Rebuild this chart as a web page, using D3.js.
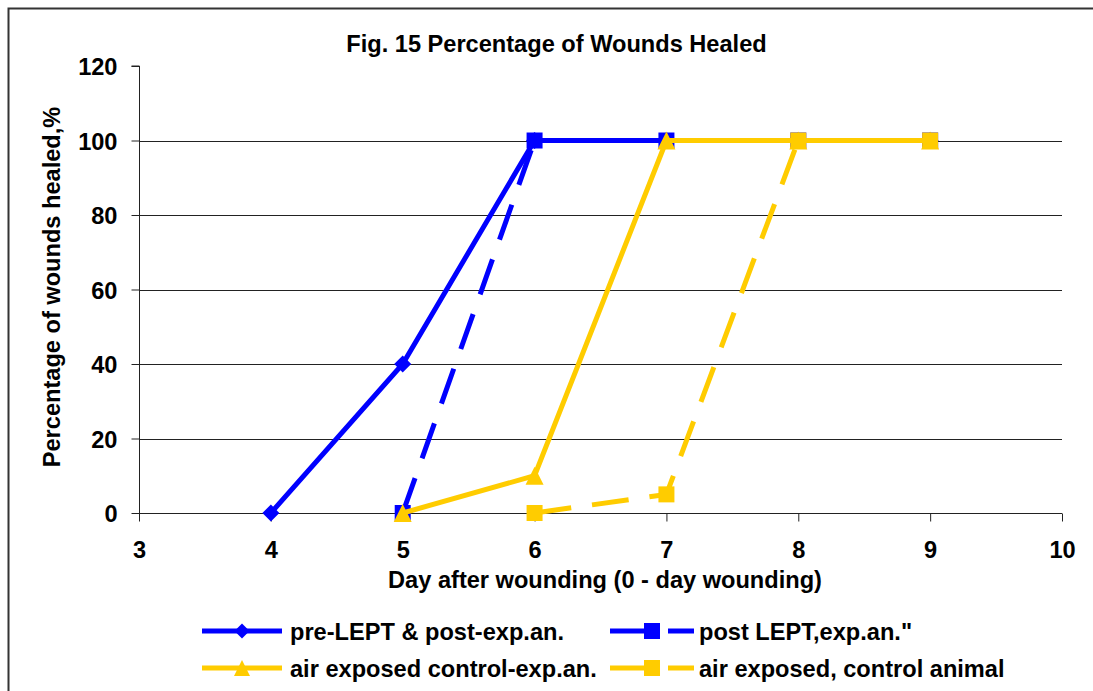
<!DOCTYPE html>
<html>
<head>
<meta charset="utf-8">
<script src="https://cdn.jsdelivr.net/npm/d3@7"></script>
<style>
  html, body { margin: 0; padding: 0; background: #fff; }
  svg { display: block; }
  text { font-family: "Liberation Sans", Arial, sans-serif; font-weight: bold; fill: #000; }
</style>
</head>
<body>
<svg id="chart" width="1093" height="691"></svg>
<script>
// ---- Data ----
const title = "Fig. 15 Percentage of Wounds Healed";
const xLabel = "Day after wounding (0 - day wounding)";
const yLabel = "Percentage of wounds healed,%";
const xTicks = [3, 4, 5, 6, 7, 8, 9, 10];
const yTicks = [0, 20, 40, 60, 80, 100, 120];

const preLeptDays = [4, 5, 6, 7, 8, 9];
const preLeptValues = [0, 40, 100, 100, 100, 100];

const postLeptDays = [5, 6, 7, 8, 9];
const postLeptValues = [0, 100, 100, 100, 100];

const airExpDays = [5, 6, 7, 8, 9];
const airExpValues = [0, 10, 100, 100, 100];

const airCtrlDays = [6, 7, 8, 9];
const airCtrlValues = [0, 5, 100, 100];

const seriesNames = [
  "pre-LEPT & post-exp.an.",
  "post LEPT,exp.an.\"",
  "air exposed control-exp.an.",
  "air exposed, control animal"
];

// ---- Styles ----
const BLUE = "#0000FF", YELLOW = "#FFCC00";
const series = [
  { name: seriesNames[0], days: preLeptDays, values: preLeptValues, color: BLUE, dash: null, marker: "diamond" },
  { name: seriesNames[1], days: postLeptDays, values: postLeptValues, color: BLUE, dash: "37,21", marker: "square" },
  { name: seriesNames[2], days: airExpDays, values: airExpValues, color: YELLOW, dash: null, marker: "triangle" },
  { name: seriesNames[3], days: airCtrlDays, values: airCtrlValues, color: YELLOW, dash: "37,21", marker: "square" }
];

const svg = d3.select("#chart");
const x = d3.scaleLinear().domain([3, 10]).range([139, 1062]);
const y = d3.scaleLinear().domain([0, 120]).range([513, 66]);

// Figure border
svg.append("rect").attr("x", 8.5).attr("y", 8.5).attr("width", 1200).attr("height", 800)
  .attr("fill", "none").attr("stroke", "#333").attr("stroke-width", 2);

// Title
svg.append("text").attr("x", 556.5).attr("y", 52).attr("text-anchor", "middle")
  .style("font-size", "23.6px").text(title);

// Gridlines
svg.append("g").selectAll("line").data(yTicks.filter(d => d > 0 && d < 120)).join("line")
  .attr("x1", x(3)).attr("x2", x(10))
  .attr("y1", d => Math.round(y(d)) + 0.5).attr("y2", d => Math.round(y(d)) + 0.5)
  .attr("stroke", "#222").attr("stroke-width", 1);

// Y axis
const yAxis = d3.axisLeft(y).tickValues(yTicks).tickSize(8).tickPadding(14);
const gy = svg.append("g").attr("transform", "translate(139.5,0)").call(yAxis);
gy.select(".domain").attr("stroke", "#222").attr("d", `M-8,${y(120)}H0V${y(0)}`);
gy.selectAll(".tick line").attr("stroke", "#222");
gy.selectAll(".tick text").style("font-size", "23.6px").style("font-family", "'Liberation Sans', Arial, sans-serif")
  .style("font-weight", "bold").attr("fill", "#000").attr("dy", "0.36em");

// X axis
const xAxis = d3.axisBottom(x).tickValues(xTicks).tickSize(8).tickPadding(20).tickFormat(d3.format("d"));
const gx = svg.append("g").attr("transform", "translate(0,513.5)").call(xAxis);
gx.select(".domain").attr("stroke", "#222").attr("d", `M${x(3)},0H${x(10)}`);
gx.selectAll(".tick line").attr("stroke", "#222");
gx.selectAll(".tick text").style("font-size", "23.6px").style("font-family", "'Liberation Sans', Arial, sans-serif")
  .style("font-weight", "bold").attr("fill", "#000");

// Axis titles
svg.append("text").attr("x", 605).attr("y", 588).attr("text-anchor", "middle")
  .style("font-size", "23.6px").text(xLabel);
svg.append("text").attr("transform", "translate(60,287) rotate(-90)").attr("text-anchor", "middle")
  .style("font-size", "23.6px").text(yLabel);

// Marker helper
function markerPath(type, size) {
  const h = size / 2;
  if (type === "diamond") return `M0,${-h}L${h},0L0,${h}L${-h},0Z`;
  if (type === "square") return `M${-h},${-h}H${h}V${h}H${-h}Z`;
  if (type === "triangle") return `M0,${-h}L${h},${h}H${-h}Z`;
}
const markerSize = { diamond: 17, square: 16, triangle: 18 };

const line = d3.line().x(d => x(d[0])).y(d => y(d[1]));

series.forEach(s => {
  const pts = s.days.map((d, i) => [d, s.values[i]]);
  const g = svg.append("g");
  g.append("path").datum(pts).attr("d", line).attr("fill", "none")
    .attr("stroke", s.color).attr("stroke-width", 5)
    .attr("stroke-dasharray", s.dash).attr("stroke-linejoin", "miter");
  g.selectAll("path.m").data(pts).join("path").attr("class", "m")
    .attr("transform", d => `translate(${x(d[0])},${y(d[1])})`)
    .attr("d", markerPath(s.marker, markerSize[s.marker]))
    .attr("fill", s.color);
});

// Legend
const legendCols = [{ x0: 202, x1: 282, tx: 290 }, { x0: 610, x1: 694, tx: 699 }];
const legendRows = [631, 668];
series.forEach((s, i) => {
  const col = legendCols[i % 2], ry = legendRows[Math.floor(i / 2)];
  const g = svg.append("g");
  g.append("line").attr("x1", col.x0).attr("x2", col.x1).attr("y1", ry).attr("y2", ry)
    .attr("stroke", s.color).attr("stroke-width", 5)
    .attr("stroke-dasharray", s.dash ? "50,8" : null);
  const cx = (col.x0 + col.x1) / 2;
  g.append("path").attr("transform", `translate(${cx},${ry})`)
    .attr("d", markerPath(s.marker, s.marker === "diamond" ? 15 : 16)).attr("fill", s.color);
  g.append("text").attr("x", col.tx).attr("y", ry + 9).style("font-size", "23.6px").text(s.name);
});
</script>
</body>
</html>
